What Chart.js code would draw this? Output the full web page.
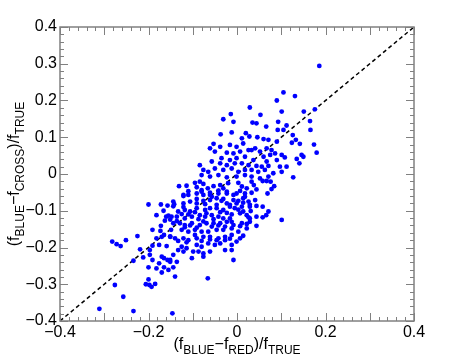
<!DOCTYPE html>
<html lang="en">
<head>
<meta charset="UTF-8">
<title>Blue vs cross flux</title>
<script src="https://cdn.jsdelivr.net/npm/chart.js"></script>
<style>
  body { margin: 0; background: #fff; }
  canvas { display: block; }
</style>
</head>
<body>
<canvas id="fluxChart" width="458" height="361"></canvas>
<script>
// points, grouped by region: [x, y]
const ptsFarLeft = [
  [-0.200,-0.083],[-0.172,-0.083],[-0.157,-0.086],[-0.166,-0.100],[-0.182,-0.112],
  [-0.160,-0.116],[-0.155,-0.113],[-0.163,-0.127],[-0.172,-0.141]
];
const ptsLowLeft = [
  [-0.282,-0.184],[-0.272,-0.191],[-0.263,-0.196],[-0.251,-0.180],[-0.225,-0.169],
  [-0.191,-0.152],[-0.173,-0.155],[-0.165,-0.166],[-0.170,-0.171],[-0.182,-0.175],
  [-0.151,-0.171],[-0.191,-0.195],[-0.176,-0.193],[-0.159,-0.196],[-0.219,-0.205],
  [-0.197,-0.207],[-0.212,-0.227],[-0.234,-0.236],[-0.197,-0.220],[-0.191,-0.234],
  [-0.170,-0.225],[-0.165,-0.229],[-0.157,-0.234],[-0.151,-0.239],[-0.176,-0.243],
  [-0.200,-0.254],[-0.182,-0.257],[-0.165,-0.254],[-0.155,-0.261],[-0.170,-0.268],
  [-0.200,-0.287],[-0.206,-0.300],[-0.198,-0.302],[-0.193,-0.307],[-0.185,-0.299],
  [-0.276,-0.302],[-0.257,-0.334],[-0.311,-0.367],[-0.234,-0.373],[-0.146,-0.379]
];
const ptsUpperMid = [
  [-0.014,0.163],[-0.031,0.149],[-0.008,0.142],[-0.037,0.108],[-0.012,0.113],
  [0.011,0.097],[0.020,0.111],[0.028,0.102],[-0.053,0.082],[-0.061,0.070],
  [-0.038,0.074],[-0.050,0.061],[-0.016,0.079],[-0.001,0.074],[0.014,0.083],
  [0.026,0.065],[-0.023,0.058],[-0.008,0.056],[0.007,0.061],[0.018,0.047],
  [-0.035,0.043],[-0.016,0.038],[-0.001,0.043],[-0.084,0.024],[-0.057,0.034],
  [-0.038,0.029],[-0.023,0.024],[-0.005,0.029],[0.011,0.029],[0.026,0.024],
  [-0.076,0.011],[-0.065,0.006],[-0.050,0.015],[-0.031,0.011],[-0.012,0.015],
  [0.003,0.006],[0.018,0.011],[-0.080,-0.003],[-0.061,-0.007],[-0.042,-0.003],
  [-0.023,-0.009],[-0.001,-0.007],[0.018,-0.003]
];
const ptsCore = [
  [-0.131,-0.033],[-0.114,-0.032],[-0.095,-0.024],[-0.084,-0.021],[-0.076,-0.027],
  [-0.091,-0.036],[-0.080,-0.044],[-0.066,-0.039],[-0.053,-0.033],[-0.038,-0.030],
  [-0.031,-0.039],[-0.020,-0.025],[0.003,-0.024],[0.011,-0.034],[0.022,-0.039],
  [0.018,-0.053],[-0.001,-0.053],[-0.008,-0.057],[-0.023,-0.053],[-0.042,-0.053],
  [-0.061,-0.057],[-0.076,-0.057],[-0.091,-0.053],[-0.110,-0.057],[-0.121,-0.057],
  [-0.144,-0.075],[-0.142,-0.082],[-0.121,-0.080],[-0.106,-0.075],[-0.091,-0.080],
  [-0.076,-0.073],[-0.061,-0.071],[-0.046,-0.066],[-0.035,-0.073],[-0.023,-0.080],
  [-0.008,-0.071],[0.003,-0.073],[0.014,-0.066],[0.026,-0.075],[0.029,-0.089],
  [0.011,-0.089],[-0.005,-0.093],[-0.016,-0.089],[-0.031,-0.098],[-0.046,-0.093],
  [-0.061,-0.093],[-0.072,-0.098],[-0.091,-0.093],[-0.106,-0.102],[-0.118,-0.098],
  [-0.133,-0.102],[-0.148,-0.116],[-0.136,-0.116],[-0.118,-0.121],[-0.102,-0.116],
  [-0.087,-0.123],[-0.072,-0.116],[-0.057,-0.112],[-0.042,-0.116],[-0.031,-0.121],
  [-0.016,-0.121],[0.007,-0.107],[0.022,-0.112],[0.029,-0.130],[0.011,-0.134],
  [-0.008,-0.139],[-0.023,-0.130],[-0.038,-0.134],[-0.053,-0.134],[-0.069,-0.134],
  [-0.084,-0.139],[-0.102,-0.134],[-0.118,-0.139],[-0.129,-0.134],[-0.144,-0.134],
  [-0.149,-0.152],[-0.125,-0.152],[-0.110,-0.157],[-0.095,-0.152],[-0.080,-0.157],
  [-0.065,-0.157],[-0.046,-0.152],[-0.031,-0.152],[-0.012,-0.148],[0.003,-0.157],
  [0.022,-0.148],[-0.140,-0.175],[-0.121,-0.175],[-0.110,-0.180],[-0.091,-0.175],
  [-0.076,-0.171],[-0.061,-0.171],[-0.042,-0.175],[-0.027,-0.171],[-0.012,-0.166],
  [0.007,-0.175],[-0.125,-0.198],[-0.114,-0.202],[-0.133,-0.207],[-0.091,-0.193],
  [-0.080,-0.198],[-0.065,-0.189],[-0.050,-0.193],[-0.038,-0.189],[-0.012,-0.193],
  [-0.144,-0.220],[-0.121,-0.211],[-0.099,-0.211],[-0.087,-0.211],[-0.076,-0.216],
  [-0.061,-0.211],[-0.027,-0.207],[-0.012,-0.207],[-0.151,-0.234],[-0.136,-0.239],
  [-0.102,-0.229],[-0.076,-0.225],[-0.008,-0.234],[-0.144,-0.254],[-0.140,-0.279],
  [-0.066,-0.284]
];
// overlapping dots in the dense middle of the cloud
const ptsCoreDense = [
  [-0.121,-0.060],[-0.110,-0.047],[-0.080,-0.048],[-0.061,-0.051],[-0.042,-0.045],
  [-0.023,-0.048],[0.007,-0.046],[0.018,-0.062],[-0.144,-0.088],[-0.121,-0.090],
  [-0.091,-0.068],[-0.072,-0.082],[-0.057,-0.062],[-0.046,-0.084],[-0.031,-0.068],
  [-0.016,-0.084],[-0.001,-0.080],[0.014,-0.078],[-0.151,-0.124],[-0.125,-0.109],
  [-0.110,-0.110],[-0.095,-0.104],[-0.084,-0.112],[-0.069,-0.107],[-0.053,-0.123],
  [-0.038,-0.104],[-0.023,-0.106],[-0.012,-0.110],[0.003,-0.097],[0.014,-0.102],
  [0.026,-0.118],[-0.136,-0.128],[-0.118,-0.145],[-0.106,-0.140],[-0.091,-0.146],
  [-0.076,-0.129],[-0.057,-0.143],[-0.042,-0.140],[-0.027,-0.143],[-0.012,-0.130],
  [0.007,-0.142],[0.022,-0.136],[-0.151,-0.170],[-0.133,-0.182],[-0.114,-0.186],
  [-0.095,-0.166],[-0.080,-0.182],[-0.061,-0.178],[-0.046,-0.180],[-0.027,-0.180],
  [-0.016,-0.176],[-0.001,-0.184],[0.014,-0.168]
];
const ptsUpperRight = [
  [0.186,0.294],[0.105,0.222],[0.131,0.212],[0.090,0.200],[0.029,0.181],
  [0.101,0.170],[0.151,0.170],[0.176,0.176],[0.165,0.144],[0.053,0.161],
  [0.035,0.140],[0.044,0.138],[0.066,0.129],[0.093,0.142],[0.112,0.132],
  [0.105,0.120],[0.092,0.120],[0.126,0.106],[0.166,0.120],[0.046,0.100],
  [0.060,0.095],[0.071,0.093],[0.090,0.088],[0.133,0.093],[0.124,0.085],
  [0.142,0.082],[0.174,0.080],[0.180,0.058],[0.078,0.065],[0.067,0.070],
  [0.052,0.061],[0.041,0.070],[0.033,0.065],[0.037,0.038],[0.060,0.047],
  [0.075,0.052],[0.086,0.056],[0.101,0.052],[0.108,0.045],[0.146,0.052],
  [0.150,0.047],[0.135,0.041],[0.141,0.029],[0.090,0.038],[0.067,0.034],
  [0.044,0.022],[0.056,0.020],[0.071,0.022],[0.097,0.020],[0.112,0.020],
  [0.033,0.011],[0.048,0.006],[0.063,0.011],[0.082,0.002],[0.101,0.006],
  [0.127,-0.009],[0.033,-0.007],[0.052,-0.012],[0.071,-0.007]
];
const ptsLowRight = [
  [0.033,-0.021],[0.038,-0.030],[0.058,-0.019],[0.067,-0.019],[0.076,-0.021],
  [0.084,-0.033],[0.078,-0.041],[0.044,-0.042],[0.033,-0.051],[0.069,-0.053],
  [0.041,-0.071],[0.029,-0.084],[0.044,-0.087],[0.058,-0.089],[0.031,-0.101],
  [0.071,-0.102],[0.066,-0.112],[0.044,-0.116],[0.058,-0.118],[0.029,-0.121],
  [0.101,-0.125],[0.044,-0.141]
];
const lineX = [-0.4, 0.4];
const lineY = [-0.4, 0.4];
const xTicks = [-0.4, -0.2, 0, 0.2, 0.4];
const yTicks = [-0.4, -0.3, -0.2, -0.1, 0, 0.1, 0.2, 0.3, 0.4];

const allPts = [].concat(ptsFarLeft, ptsLowLeft, ptsUpperMid, ptsCore, ptsCoreDense, ptsUpperRight, ptsLowRight)
  .map(p => ({ x: p[0], y: p[1] }));

function fmt(v) {
  if (Math.abs(v) < 1e-9) return '0';
  return v.toFixed(1).replace('-', '\u2212');
}

// draw text with subscripts, parts = [[text, isSub], ...]
function drawSubText(ctx, parts, cx, base) {
  const big = '16px "Liberation Sans", Arial, sans-serif';
  const small = '12px "Liberation Sans", Arial, sans-serif';
  let w = 0;
  parts.forEach(p => { ctx.font = p[1] ? small : big; w += ctx.measureText(p[0]).width; });
  let x = cx - w / 2;
  ctx.textAlign = 'left';
  ctx.textBaseline = 'alphabetic';
  parts.forEach(p => {
    ctx.font = p[1] ? small : big;
    ctx.fillText(p[0], x, p[1] ? base + 5 : base);
    x += ctx.measureText(p[0]).width;
  });
}

const framePlugin = {
  id: 'framePlugin',
  afterDatasetsDraw(chart) {
    const { ctx, chartArea: a, scales } = chart;
    const sx = scales.x, sy = scales.y;
    ctx.save();
    ctx.strokeStyle = '#808080';
    ctx.lineWidth = 1.5;
    ctx.strokeRect(a.left, a.top, a.right - a.left, a.bottom - a.top);

    ctx.lineWidth = 1;
    ctx.beginPath();
    // minor ticks every 0.02, longer ones every 0.1
    for (let i = -20; i <= 20; i++) {
      const px = Math.round(sx.getPixelForValue(i * 0.02)) + 0.5;
      const len = (i % 5 === 0) ? 8 : 4;
      ctx.moveTo(px, a.bottom); ctx.lineTo(px, a.bottom - len);
      ctx.moveTo(px, a.top); ctx.lineTo(px, a.top + len);
    }
    for (let i = -20; i <= 20; i++) {
      const py = Math.round(sy.getPixelForValue(i * 0.02)) + 0.5;
      const len = (i % 5 === 0) ? 8 : 4;
      ctx.moveTo(a.left, py); ctx.lineTo(a.left + len, py);
      ctx.moveTo(a.right, py); ctx.lineTo(a.right - len, py);
    }
    ctx.stroke();

    ctx.fillStyle = '#000';
    ctx.font = '16px "Liberation Sans", Arial, sans-serif';
    ctx.textAlign = 'center';
    ctx.textBaseline = 'middle';
    xTicks.forEach(v => ctx.fillText(fmt(v), sx.getPixelForValue(v), a.bottom + 12));
    ctx.textAlign = 'right';
    yTicks.forEach(v => ctx.fillText(fmt(v), a.left - 3, sy.getPixelForValue(v)));

    drawSubText(ctx, [['(f', 0], ['BLUE', 1], ['\u2212f', 0], ['RED', 1], [')/f', 0], ['TRUE', 1]],
      (a.left + a.right) / 2, 349);

    ctx.translate(19, (a.top + a.bottom) / 2);
    ctx.rotate(-Math.PI / 2);
    drawSubText(ctx, [['(f', 0], ['BLUE', 1], ['\u2212f', 0], ['CROSS', 1], [')/f', 0], ['TRUE', 1]],
      0, 0);
    ctx.restore();
  }
};

new Chart(document.getElementById('fluxChart'), {
  type: 'scatter',
  data: {
    datasets: [
      {
        data: allPts,
        backgroundColor: '#0000ff',
        borderWidth: 0,
        pointRadius: 2.4,
        pointHoverRadius: 2.4
      },
      {
        data: lineX.map((v, i) => ({ x: v, y: lineY[i] })),
        showLine: true,
        borderColor: '#000',
        borderWidth: 1.5,
        borderDash: [4, 3],
        pointRadius: 0,
        fill: false
      }
    ]
  },
  options: {
    responsive: false,
    animation: false,
    layout: { padding: { left: 60, right: 44, top: 27, bottom: 40 } },
    plugins: { legend: { display: false }, tooltip: { enabled: false } },
    scales: {
      x: { type: 'linear', min: -0.4, max: 0.4, display: false },
      y: { type: 'linear', min: -0.4, max: 0.4, display: false }
    }
  },
  plugins: [framePlugin]
});
</script>
</body>
</html>
